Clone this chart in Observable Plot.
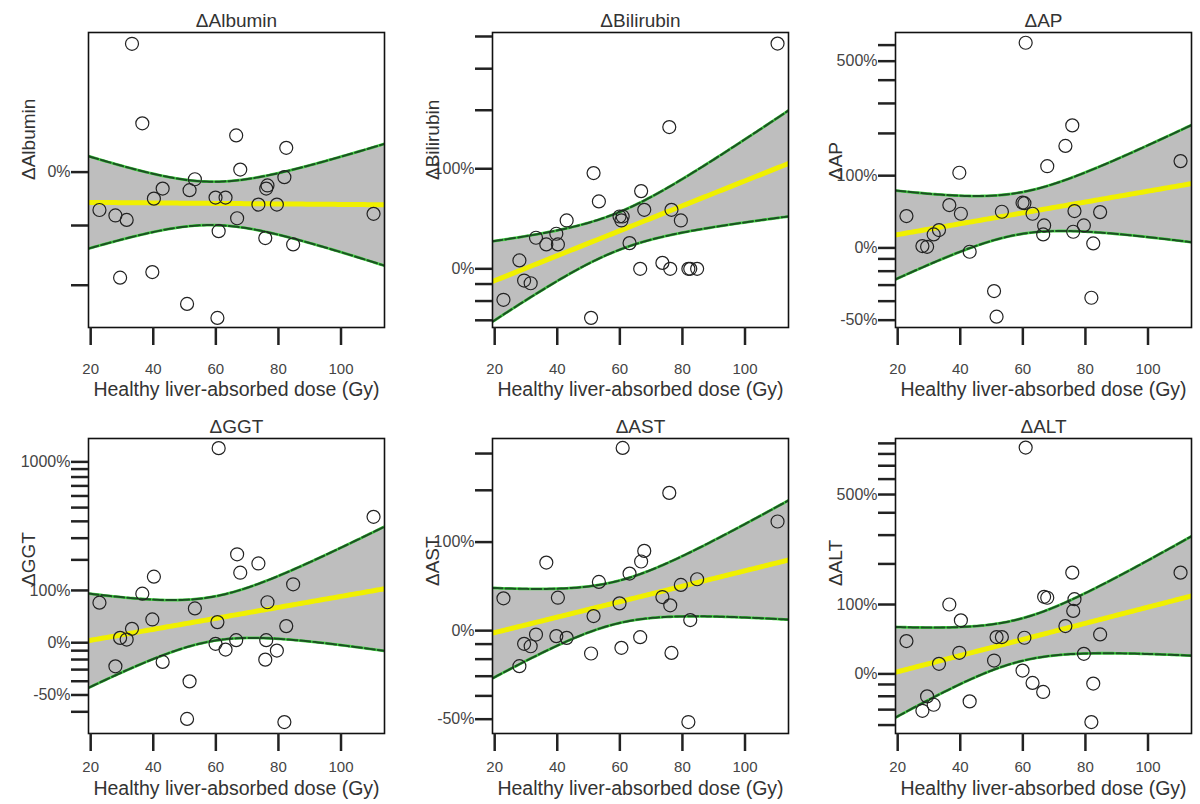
<!DOCTYPE html>
<html>
<head>
<meta charset="utf-8">
<script src="https://cdn.jsdelivr.net/npm/d3@7"></script>
<script src="https://cdn.jsdelivr.net/npm/@observablehq/plot@0.6"></script>
<style>
  body { margin: 0; background: #fff; }
  #wrap { position: relative; width: 1200px; height: 804px; overflow: hidden; background: #fff;
          font-family: "Liberation Sans", Arial, sans-serif; }
  .panel { position: absolute; }
</style>
</head>
<body>
<div id="wrap"></div>
<script>
// Healthy liver-absorbed dose (Gy), one per patient (shared by all panels)
const doses = [22.8, 27.9, 29.4, 31.5, 33.2, 36.5, 39.7, 40.2, 43.0, 50.8, 51.6, 53.3, 59.9, 60.5,
               60.9, 63.1, 66.5, 66.8, 67.8, 73.6, 75.8, 76.1, 76.5, 79.5, 81.9, 82.5, 84.7, 110.4];

// Percent change of each marker, same patient order as doses
const albumin   = [-7.2, -8.2, -18.8, -9.0, 28.8, 10.1, -17.9, -5.1, -3.2, -22.9, -3.5, -1.4, -4.9, -25.0,
                   -11.0, -4.9, 7.5, -8.7, 0.5, -6.2, -12.2, -3.2, -2.6, -6.2, -1.0, 4.9, -13.3, -7.9];
const bilirubin = [-19.3, 6.0, -7.8, -9.5, 24.0, 18.4, 27.5, 18.4, 39.8, -28.8, 94.1, 59.5, 43.7, 39.8,
                   43.7, 19.5, 0, 71.3, 50.5, 4.2, 167, 0, 50.5, 39.8, 0, 0, 0, 376];
const ap        = [35.7, 1.8, 1.1, 13.8, 18.7, 50.8, 105.7, 38.8, -3.6, -33.9, -48.3, 41.5, 54.3, 53.6,
                   616, 38.8, 13.8, 24.1, 119, 166, 224, 16.8, 42.4, 24.1, -38.0, 4.4, 41.0, 130];
const ggt       = [70, -26.9, 6.6, 4.3, 20.2, 91.6, 36.1, 140, -22.5, -63.6, -40.1, 57.6, -1.5, 31.4,
                   1220, -8.7, 3.4, 223, 153, 186, -20.1, 3.4, 71, -9.9, -65.1, 24.6, 117, 431];
const ast       = [28.8, -24.3, -9.8, -11.5, -3.0, 70.4, -4.2, 29.4, -5.5, -16.4, 12.1, 46.4, 23.8, -12.6,
                   318, 56.3, -5.0, 71.8, 86.7, 30.1, 194, 21.9, -16.0, 43.0, -51.1, 8.6, 49.5, 135];
const alt       = [38.8, -30.8, -20.1, -26.5, 10.6, 100, 23.5, 70.8, -24.0, 14.3, 44.5, 44.5, 3.4, 43.5,
                   859, -8.6, -16.5, 116, 114, 61.3, 175, 87.6, 111, 22.2, -38.2, -9.2, 48.4, 175];

const panelNames = ["ΔAlbumin", "ΔBilirubin", "ΔAP", "ΔGGT", "ΔAST", "ΔALT"];
const panelValues = [albumin, bilirubin, ap, ggt, ast, alt];
// y domains as ratio (1 + change)
const panelDomains = [[0.736, 1.317], [0.666, 5.14], [0.466, 7.9], [0.300, 15.0], [0.447, 4.50], [0.5515, 10.5]];

const xDomain = [19.3, 113.9];
const xTicks = [20, 40, 60, 80, 100];
const yTickPct = [-90, -80, -70, -60, -50, -40, -30, -20, -10, 0, 100, 200, 300, 400, 500, 600, 700, 800, 900, 1000];
const yLabelPct = [-50, 0, 100, 500, 1000];
const xTitle = "Healthy liver-absorbed dose (Gy)";
const T_QUANTILE = 2.0555; // t(0.975, df = 26)

function fitBand(xs, pcts) {
  const ys = pcts.map(p => Math.log10(1 + p / 100));
  const n = xs.length;
  const mx = d3.mean(xs), my = d3.mean(ys);
  let sxx = 0, sxy = 0;
  for (let i = 0; i < n; i++) { sxx += (xs[i] - mx) ** 2; sxy += (xs[i] - mx) * (ys[i] - my); }
  const b = sxy / sxx, a = my - b * mx;
  let sse = 0;
  for (let i = 0; i < n; i++) sse += (ys[i] - (a + b * xs[i])) ** 2;
  const s = Math.sqrt(sse / (n - 2));
  return d3.range(0, 121).map(i => {
    const x = xDomain[0] + (xDomain[1] - xDomain[0]) * i / 120;
    const f = a + b * x;
    const se = s * Math.sqrt(1 / n + (x - mx) ** 2 / sxx);
    return {x, fit: 10 ** f, lo: 10 ** (f - T_QUANTILE * se), hi: 10 ** (f + T_QUANTILE * se)};
  });
}

const W = 396, H = 397, ML = 88, MT = 32, MR = 12, MB = 70;
const colLeft = [0, 404, 807];
const rowTop = [0, 406];
const tickPadRow = [18, 10];
const titleDyRow = [62, 55];
const wrap = document.getElementById("wrap");

panelNames.forEach((name, k) => {
  const col = k % 3, row = Math.floor(k / 3);
  const vals = panelValues[k];
  const dom = panelDomains[k];
  const pts = doses.map((d, i) => ({x: d, y: 1 + vals[i] / 100}));
  const band = fitBand(doses, vals);
  const ticks = yTickPct.map(p => 1 + p / 100).filter(r => r > dom[0] * 1.002 && r < dom[1] * 0.998);
  const fmt = r => {
    const p = Math.round((r - 1) * 100);
    return yLabelPct.includes(p) ? `${p}%` : "";
  };
  const chart = Plot.plot({
    width: W, height: H,
    marginLeft: ML, marginTop: MT, marginRight: MR, marginBottom: MB,
    style: {fontFamily: "'Liberation Sans', Arial, sans-serif", background: "transparent", overflow: "visible"},
    x: {domain: xDomain},
    y: {type: "log", domain: dom},
    marks: [
      Plot.areaY(band, {x: "x", y1: "lo", y2: "hi", fill: "#bebebe", clip: true}),
      Plot.line(band, {x: "x", y: "hi", stroke: "#44d044", strokeWidth: 2.8, clip: true}),
      Plot.line(band, {x: "x", y: "hi", stroke: "#1b5222", strokeWidth: 2, strokeDasharray: "10,3", clip: true}),
      Plot.line(band, {x: "x", y: "lo", stroke: "#44d044", strokeWidth: 2.8, clip: true}),
      Plot.line(band, {x: "x", y: "lo", stroke: "#1b5222", strokeWidth: 2, strokeDasharray: "10,3", clip: true}),
      Plot.line(band, {x: "x", y: "fit", stroke: "#f0f000", strokeWidth: 5, clip: true}),
      Plot.dot(pts, {x: "x", y: "y", r: 6.5, stroke: "#222", strokeWidth: 1.2, fill: "none"}),
      Plot.frame({stroke: "#111", strokeWidth: 1.6}),
      Plot.axisY({ticks, tickSize: 17, tickPadding: 1, tickFormat: fmt, stroke: "#222", strokeWidth: 2.5,
                  fill: "#444", fontSize: 16, label: null}),
      Plot.axisX({ticks: xTicks, tickSize: 18, tickPadding: tickPadRow[row], tickFormat: d => `${d}`,
                  stroke: "#222", strokeWidth: 2.5, fill: "#444", fontSize: 15, label: null}),
      Plot.text([name], {text: d => d, frameAnchor: "top", lineAnchor: "middle", dy: -12, fontSize: 19, fill: "#333"}),
      Plot.text([name], {text: d => d, frameAnchor: "left", lineAnchor: "middle", dx: -60, rotate: -90, fontSize: 19, fill: "#333"}),
      Plot.text([xTitle], {text: d => d, frameAnchor: "bottom", lineAnchor: "middle", dy: titleDyRow[row], fontSize: 19.5, fill: "#333"})
    ]
  });
  chart.classList.add("panel");
  chart.style.left = colLeft[col] + "px";
  chart.style.top = rowTop[row] + "px";
  wrap.appendChild(chart);
});
</script>
</body>
</html>
